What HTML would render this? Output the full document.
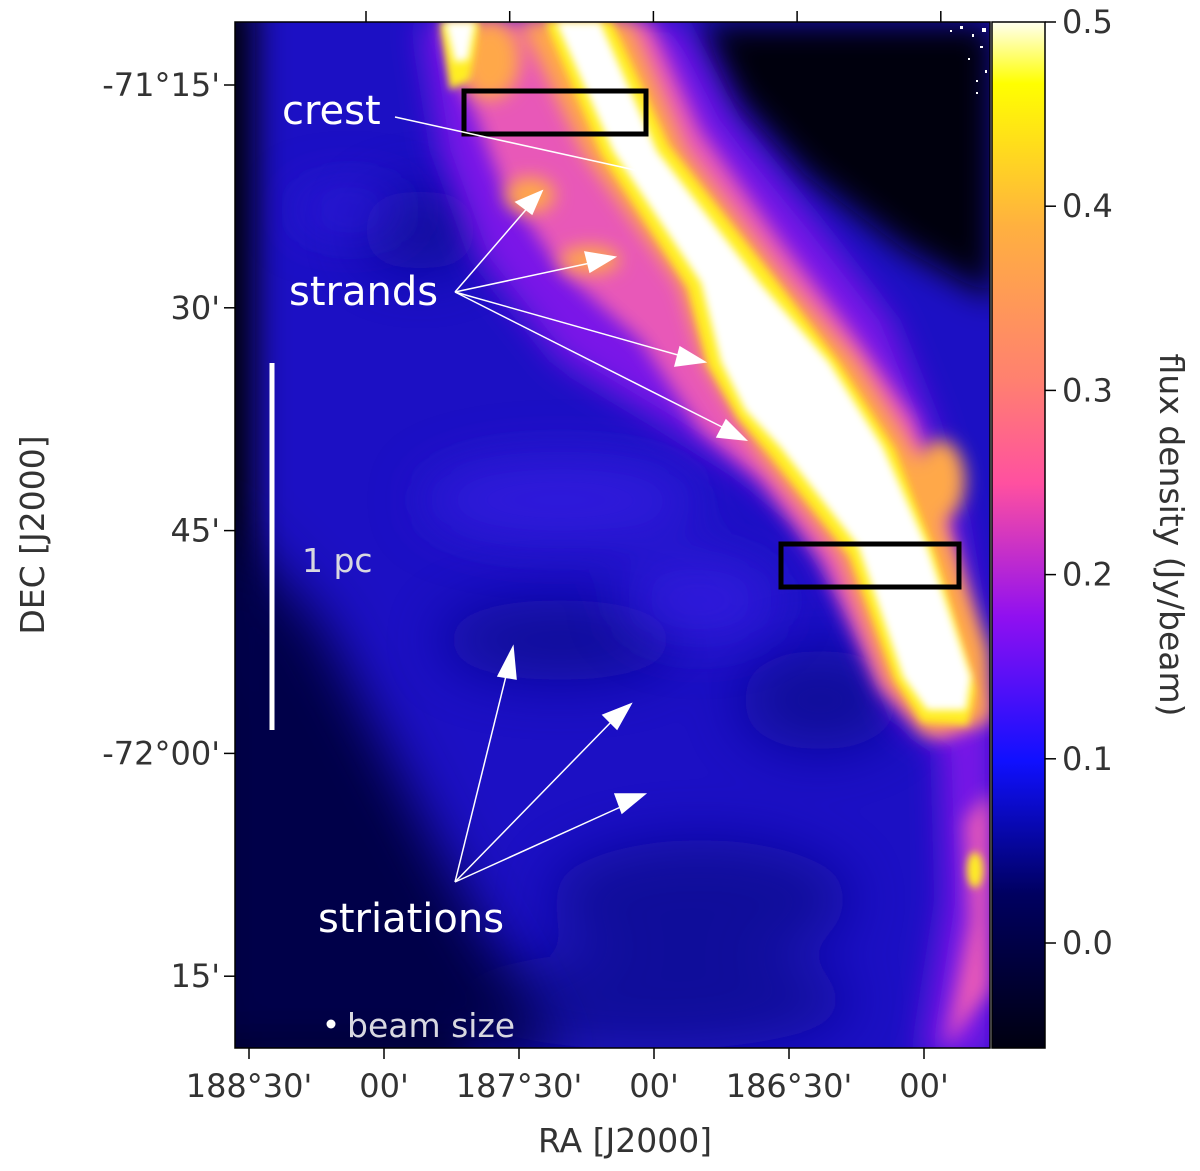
<!DOCTYPE html>
<html><head><meta charset="utf-8"><style>
html,body{margin:0;padding:0;background:#fff}
svg{display:block;font-family:"DejaVu Sans","Liberation Sans",sans-serif}
</style></head><body>
<svg id="fig" width="1200" height="1171" viewBox="0 0 1200 1171">
<defs>
<filter id="b4" x="-20%" y="-20%" width="140%" height="140%"><feGaussianBlur stdDeviation="4"/></filter>
<filter id="b8" x="-20%" y="-20%" width="140%" height="140%"><feGaussianBlur stdDeviation="9"/></filter>
<filter id="b16" x="-30%" y="-30%" width="160%" height="160%"><feGaussianBlur stdDeviation="16"/></filter>
<filter id="b28" x="-30%" y="-30%" width="160%" height="160%"><feGaussianBlur stdDeviation="28"/></filter>
<clipPath id="imgclip"><rect x="235" y="22" width="755" height="1026"/></clipPath>
<linearGradient id="cmap" x1="0" y1="0" x2="0" y2="1">
<stop offset="0" stop-color="#fffff0"/>
<stop offset="0.06" stop-color="#ffff00"/>
<stop offset="0.2" stop-color="#ffb040"/>
<stop offset="0.35" stop-color="#ff8070"/>
<stop offset="0.45" stop-color="#ff50a0"/>
<stop offset="0.58" stop-color="#9010f0"/>
<stop offset="0.72" stop-color="#1010ff"/>
<stop offset="0.85" stop-color="#000060"/>
<stop offset="1" stop-color="#000010"/>
</linearGradient>
</defs>

<g clip-path="url(#imgclip)">
<rect x="235" y="22" width="755" height="1026" fill="#1c10c4"/>
<g filter="url(#b28)" fill="#0c0890" opacity="0.8">
<ellipse cx="420" cy="230" rx="60" ry="40"/>
<ellipse cx="700" cy="900" rx="150" ry="60"/>
<ellipse cx="560" cy="640" rx="120" ry="40"/>
<ellipse cx="820" cy="700" rx="80" ry="50"/>
<ellipse cx="650" cy="1000" rx="200" ry="50"/>
</g>
<g filter="url(#b28)" fill="#3a22e8" opacity="0.7">
<ellipse cx="560" cy="500" rx="140" ry="40"/>
<ellipse cx="350" cy="210" rx="60" ry="20"/>
<ellipse cx="700" cy="600" rx="80" ry="40"/>
</g>
<g filter="url(#b16)" fill="#000008">
<polygon points="700,22 995,22 995,300 905,250 805,175 735,100"/>
<rect x="200" y="0" width="55" height="1100"/>
<polygon points="200,640 300,720 400,900 470,1060 200,1060"/>
</g>
<polygon filter="url(#b28)" fill="#06044a" points="200,500 320,620 440,850 560,1060 200,1060"/>
<!-- purple halo -->
<g filter="url(#b16)" fill="#7a18e8">
<polygon points="420,22 680,22 730,120 820,230 890,320 930,420 960,520 980,640 990,700 960,760 900,720 860,620 800,520 740,470 660,420 560,360 480,260 440,150"/>
<polygon points="940,720 995,690 995,1060 920,1060 945,900"/>
</g>
<!-- pink -->
<g filter="url(#b8)" fill="#e858b8">
<polygon points="440,22 650,22 700,130 780,240 850,330 915,420 945,520 970,640 985,720 940,740 880,690 820,560 760,480 700,430 640,340 560,270 500,180"/>
<polygon points="965,820 990,790 990,990 945,1048 970,920"/>
</g>
<!-- orange -->
<g filter="url(#b8)" fill="#ffa848">
<polygon points="520,22 630,22 685,150 785,280 855,360 910,445 950,540 988,650 990,720 925,735 885,680 840,555 760,455 705,365 680,285 585,155"/>
<ellipse cx="530" cy="195" rx="25" ry="18"/>
<ellipse cx="590" cy="260" rx="30" ry="14"/>
<ellipse cx="490" cy="60" rx="30" ry="40"/>
<ellipse cx="940" cy="480" rx="25" ry="40"/>
</g>
<!-- yellow -->
<g filter="url(#b4)" fill="#ffee20">
<polygon points="545,22 612,22 668,145 775,280 838,362 895,450 935,555 975,690 968,725 922,722 895,680 850,556 770,455 738,418 708,365 688,288 602,155"/>
<polygon points="440,22 480,22 470,80 450,90"/>
<ellipse cx="975" cy="870" rx="8" ry="18"/>
</g>
<!-- white core -->
<polygon filter="url(#b4)" fill="#ffffff" points="556,22 600,22 657,151 760,283 829,362 883,447 927,546 971,677 966,710 927,710 903,677 858,546 780,447 745,410 721,362 701,283 613,151"/>
<polygon filter="url(#b4)" fill="#ffffff" points="445,22 475,22 468,60 455,62"/>
<g fill="#ffffff">
<rect x="960" y="26" width="3" height="3"/><rect x="972" y="34" width="2" height="3"/><rect x="980" y="46" width="3" height="2"/><rect x="968" y="58" width="2" height="2"/><rect x="985" y="70" width="2" height="3"/><rect x="950" y="30" width="2" height="2"/><rect x="976" y="80" width="2" height="2"/><rect x="982" y="28" width="4" height="4"/><rect x="976" y="92" width="2" height="2"/>
</g>
</g>

<g>
<rect x="464" y="91" width="182" height="43" fill="none" stroke="#000" stroke-width="5"/>
<rect x="781" y="544" width="178" height="43" fill="none" stroke="#000" stroke-width="5"/>
<g stroke="#fff" stroke-width="1.5" fill="#fff">
<line x1="395" y1="117" x2="635" y2="170"/>
<line x1="455" y1="292" x2="530" y2="205"/>
<polygon points="542,191 516,202 532,214"/>
<line x1="455" y1="292" x2="595" y2="262"/>
<polygon points="615,257 585,252 590,272"/>
<line x1="455" y1="292" x2="685" y2="357"/>
<polygon points="705,362 680,347 675,366"/>
<line x1="455" y1="292" x2="728" y2="430"/>
<polygon points="746,440 726,420 717,437"/>
<line x1="455" y1="882" x2="508" y2="668"/>
<polygon points="513,647 498,676 516,679"/>
<line x1="455" y1="882" x2="615" y2="718"/>
<polygon points="631,704 603,715 617,729"/>
<line x1="455" y1="882" x2="625" y2="805"/>
<polygon points="645,794 615,794 622,813"/>
</g>
<text x="282" y="124" font-size="40" fill="#fff">crest</text>
<text x="289" y="305" font-size="40" fill="#fff">strands</text>
<text x="318" y="932" font-size="40" fill="#fff">striations</text>
<line x1="272" y1="363" x2="272" y2="730" stroke="#fff" stroke-width="5"/>
<text x="302" y="572" font-size="33" fill="#d8d8e0">1 pc</text>
<circle cx="331" cy="1024" r="4.5" fill="#fff"/>
<text x="347" y="1037" font-size="33" fill="#d8d8e0">beam size</text>
</g>

<rect x="235" y="22" width="755" height="1026" fill="none" stroke="#000" stroke-width="1.5"/>
<rect x="992" y="22" width="53" height="1026" fill="url(#cmap)" stroke="#000" stroke-width="1.5"/>
<g id="axes"></g>
<text x="625" y="1152" font-size="33" fill="#333" text-anchor="middle">RA [J2000]</text>
<text transform="translate(44,535) rotate(-90)" font-size="33" fill="#333" text-anchor="middle">DEC [J2000]</text>
<text transform="translate(1160,535) rotate(90)" font-size="33" fill="#333" text-anchor="middle">flux density (Jy/beam)</text>
</svg>
<script>
const raLabels = ["188°30'", "00'", "187°30'", "00'", "186°30'", "00'"];
const raPos = [0, 1, 2, 3, 4, 5];
const topTicks = [0, 1, 2, 3, 4];
const decLabels = ["-71°15'", "30'", "45'", "-72°00'", "15'"];
const decPos = [0, 1, 2, 3, 4];
const cbarTicks = [0.0, 0.1, 0.2, 0.3, 0.4, 0.5];
const cbarMin = -0.057, cbarMax = 0.5;

const NS = "http://www.w3.org/2000/svg";
const g = document.getElementById('axes');
function xb(i){ return 249 + i * 135; }
function xt(i){ return 366 + i * 143.7; }
function yd(i){ return 85 + i * 222.8; }
function yc(v){ return 1048 - (v - cbarMin) / (cbarMax - cbarMin) * 1026; }
function mk(tag, attrs){ const e = document.createElementNS(NS, tag); for (const k in attrs) e.setAttribute(k, attrs[k]); g.appendChild(e); return e; }

raPos.forEach((p, i) => {
  const x = xb(p);
  const t = mk('line', {x1:x, y1:1048, x2:x, y2:1059, stroke:'#000', 'stroke-width':1.5});
  
  
  const l = mk('text', {x:x, y:1097, 'font-size':32, fill:'#333', 'text-anchor':'middle'});
  l.textContent = raLabels[i];
  
  
});
topTicks.forEach(p => {
  const x = xt(p);
  const t = mk('line', {x1:x, y1:22, x2:x, y2:11, stroke:'#000', 'stroke-width':1.5});
  
  
});
decPos.forEach((p, i) => {
  const y = yd(p);
  const t = mk('line', {x1:235, y1:y, x2:224, y2:y, stroke:'#000', 'stroke-width':1.5});
  
  
  const l = mk('text', {x:220, y:y + 11, 'font-size':32, fill:'#333', 'text-anchor':'end'});
  l.textContent = decLabels[i];
  
  
});
cbarTicks.forEach(v => {
  const y = yc(v);
  const t = mk('line', {x1:1045, y1:y, x2:1056, y2:y, stroke:'#000', 'stroke-width':1.5});
  
  
  const l = mk('text', {x:1062, y:y + 11, 'font-size':32, fill:'#333'});
  l.textContent = v.toFixed(1);
  
  
});
</script>
</body></html>
